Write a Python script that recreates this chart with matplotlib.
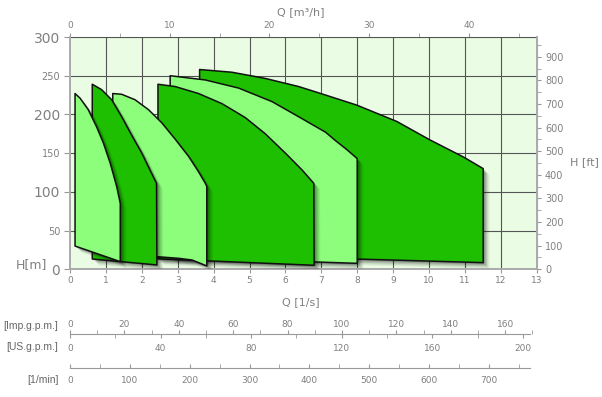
import matplotlib
matplotlib.use('Agg')
import matplotlib.pyplot as plt
import matplotlib.patheffects as pe
from matplotlib.patches import Polygon
from matplotlib.ticker import MultipleLocator

# conversion factors from l/s
M3H = 3.6
IMP = 13.198
US_PER_IMP = 1.20095
LMIN = 60.0
FT = 3.28084

# pump ranges: top curve (left -> right) and bottom line, Q in l/s, H in m
top_q1 = [0.14, 0.28, 0.51, 0.74, 0.93, 1.12, 1.30, 1.40]
top_h1 = [227, 221, 206, 184, 163, 137, 107, 85]
bot_q1 = [0.14, 1.40]
bot_h1 = [30, 9.9]

top_q2 = [0.62, 0.88, 1.16, 1.44, 1.72, 2.00, 2.23, 2.41]
top_h2 = [239, 232, 219, 197, 173, 150, 128, 111]
bot_q2 = [0.62, 2.42]
bot_h2 = [13.3, 5.6]

top_q3 = [1.19, 1.44, 1.81, 2.19, 2.56, 2.93, 3.30, 3.58, 3.77, 3.81]
top_h3 = [227, 226, 219, 206, 189, 168, 146, 126, 111, 107]
bot_q3 = [1.19, 2.42, 3.02, 3.40, 3.63, 3.81]
bot_h3 = [18, 16.3, 14.2, 12.0, 7.7, 4.3]

top_q4 = [2.45, 2.93, 3.58, 4.23, 4.88, 5.44, 6.00, 6.47, 6.79]
top_h4 = [239, 236, 227, 214, 196, 175, 150, 128, 111]
bot_q4 = [2.45, 6.80]
bot_h4 = [13.5, 5.2]

top_q5 = [2.79, 3.77, 4.70, 5.63, 6.37, 7.12, 7.40, 7.70, 8.00]
top_h5 = [250, 244.5, 234, 216.5, 197, 177, 166, 155, 143]
bot_q5 = [2.79, 8.00]
bot_h5 = [15.5, 7.7]

top_q6 = [3.61, 4.51, 5.44, 6.37, 7.12, 7.99, 9.10, 10.03, 10.96, 11.51]
top_h6 = [258, 254.5, 246.5, 236, 225, 212, 191, 167, 145, 130]
bot_q6 = [3.61, 11.51]
bot_h6 = [19, 8.6]

LIGHT = '#8dfd7c'
DARK = '#1ebf00'
shapes = [
    (top_q6, top_h6, bot_q6, bot_h6, DARK),
    (top_q5, top_h5, bot_q5, bot_h5, LIGHT),
    (top_q4, top_h4, bot_q4, bot_h4, DARK),
    (top_q3, top_h3, bot_q3, bot_h3, LIGHT),
    (top_q2, top_h2, bot_q2, bot_h2, DARK),
    (top_q1, top_h1, bot_q1, bot_h1, LIGHT),
]

TXT = '#808080'

fig = plt.figure(figsize=(6.02, 3.97), dpi=100)
L, W = 0.1163, 0.7752
ax = fig.add_axes([L, 0.3217, W, 0.5851])
ax.set_facecolor('#eafde4')
ax.set_xlim(0, 13)
ax.set_ylim(0, 300)

for q in range(1, 13):
    ax.axvline(q, color='#555555', lw=0.8, zorder=1)
for h in range(50, 301, 50):
    ax.axhline(h, color='#555555', lw=0.8, zorder=1)

shadow = [pe.SimplePatchShadow(offset=(d, -d), shadow_rgbFace='black', alpha=a)
          for d, a in [(4.5, 0.06), (3.6, 0.08), (2.7, 0.11), (1.8, 0.14), (1.0, 0.16)]]
for i, (tq, th, bq, bh, col) in enumerate(shapes):
    pts = list(zip(tq, th)) + list(zip(bq[::-1], bh[::-1]))
    poly = Polygon(pts, closed=True, facecolor=col, edgecolor='#111111',
                   lw=1.1, joinstyle='round', zorder=2 + i)
    poly.set_path_effects(shadow + [pe.Normal()])
    ax.add_patch(poly)

ax.spines['top'].set_visible(False)
for s in ['left', 'bottom', 'right']:
    ax.spines[s].set_color('#aaaaaa')
    ax.spines[s].set_linewidth(1.4)

ax.set_xticks(range(14))
ax.tick_params(axis='x', length=3, color='#999999', labelsize=6.5,
               labelcolor=TXT, pad=2)
ax.set_yticks(range(0, 301, 50))
ax.tick_params(axis='y', length=4, color='#999999', labelcolor=TXT, pad=3)
for lab, v in zip(ax.get_yticklabels(), range(0, 301, 50)):
    lab.set_fontsize(10 if v % 100 == 0 else 7)

top = ax.secondary_xaxis('top', functions=(lambda q: q * M3H, lambda m: m / M3H))
top.set_xticks([0, 10, 20, 30, 40])
top.xaxis.set_minor_locator(MultipleLocator(5))
top.tick_params(which='both', length=3, color='#999999', labelsize=6.5,
                labelcolor=TXT, pad=2)
top.spines['top'].set_color('#aaaaaa')

right = ax.secondary_yaxis('right', functions=(lambda h: h * FT, lambda f: f / FT))
right.set_yticks(range(0, 901, 100))
right.yaxis.set_minor_locator(MultipleLocator(50))
right.tick_params(which='both', length=3, color='#999999', labelsize=7,
                  labelcolor=TXT, pad=3)
right.spines['right'].set_color('#aaaaaa')

fig.text(0.5, 0.97, 'Q [m³/h]', ha='center', va='center', fontsize=8, color=TXT)
fig.text(0.97, 0.592, 'H [ft]', ha='center', va='center', fontsize=8, color=TXT)
fig.text(0.052, 0.333, 'H[m]', ha='center', va='center', fontsize=9, color=TXT)
fig.text(0.5, 0.24, 'Q [1/s]', ha='center', va='center', fontsize=8, color=TXT)

# Imp / US gallons scale
axI = fig.add_axes([L, 0.158, W, 0.0005])
axI.set_xlim(0, 13 * IMP)
axI.set_yticks([])
for s in ['left', 'right', 'bottom']:
    axI.spines[s].set_visible(False)
axI.spines['top'].set_color('#999999')
axI.spines['top'].set_bounds(0, 12.8 * IMP)
axI.xaxis.tick_top()
axI.set_xticks(range(0, 161, 20))
axI.xaxis.set_minor_locator(MultipleLocator(10))
axI.tick_params(which='both', direction='out', length=3, color='#999999',
                labelsize=6.5, labelcolor=TXT, pad=1)
us = axI.secondary_xaxis('bottom', functions=(lambda i: i * US_PER_IMP,
                                              lambda u: u / US_PER_IMP))
us.set_xticks(range(0, 201, 40))
us.xaxis.set_minor_locator(MultipleLocator(20))
us.spines['bottom'].set_visible(False)
us.tick_params(which='both', direction='out', length=3, color='#999999',
               labelsize=6.5, labelcolor=TXT, pad=4)

# l/min scale
axM = fig.add_axes([L, 0.0738, W, 0.0005])
axM.set_xlim(0, 13 * LMIN)
axM.set_yticks([])
for s in ['left', 'right', 'top']:
    axM.spines[s].set_visible(False)
axM.spines['bottom'].set_color('#999999')
axM.spines['bottom'].set_bounds(0, 12.8 * LMIN)
axM.set_xticks(range(0, 701, 100))
axM.xaxis.set_minor_locator(MultipleLocator(50))
axM.tick_params(which='both', direction='in', length=3, color='#999999',
                labelsize=6.5, labelcolor=TXT, pad=6)

lab_kw = dict(ha='right', va='center', fontsize=7.5, color='#666666',
              family='Liberation Sans')
fig.text(0.097, 0.18, '[Imp.g.p.m.]', **lab_kw)
fig.text(0.097, 0.126, '[US.g.p.m.]', **lab_kw)
fig.text(0.097, 0.043, '[1/min]', **lab_kw)

fig.savefig('out.png', dpi=100)
